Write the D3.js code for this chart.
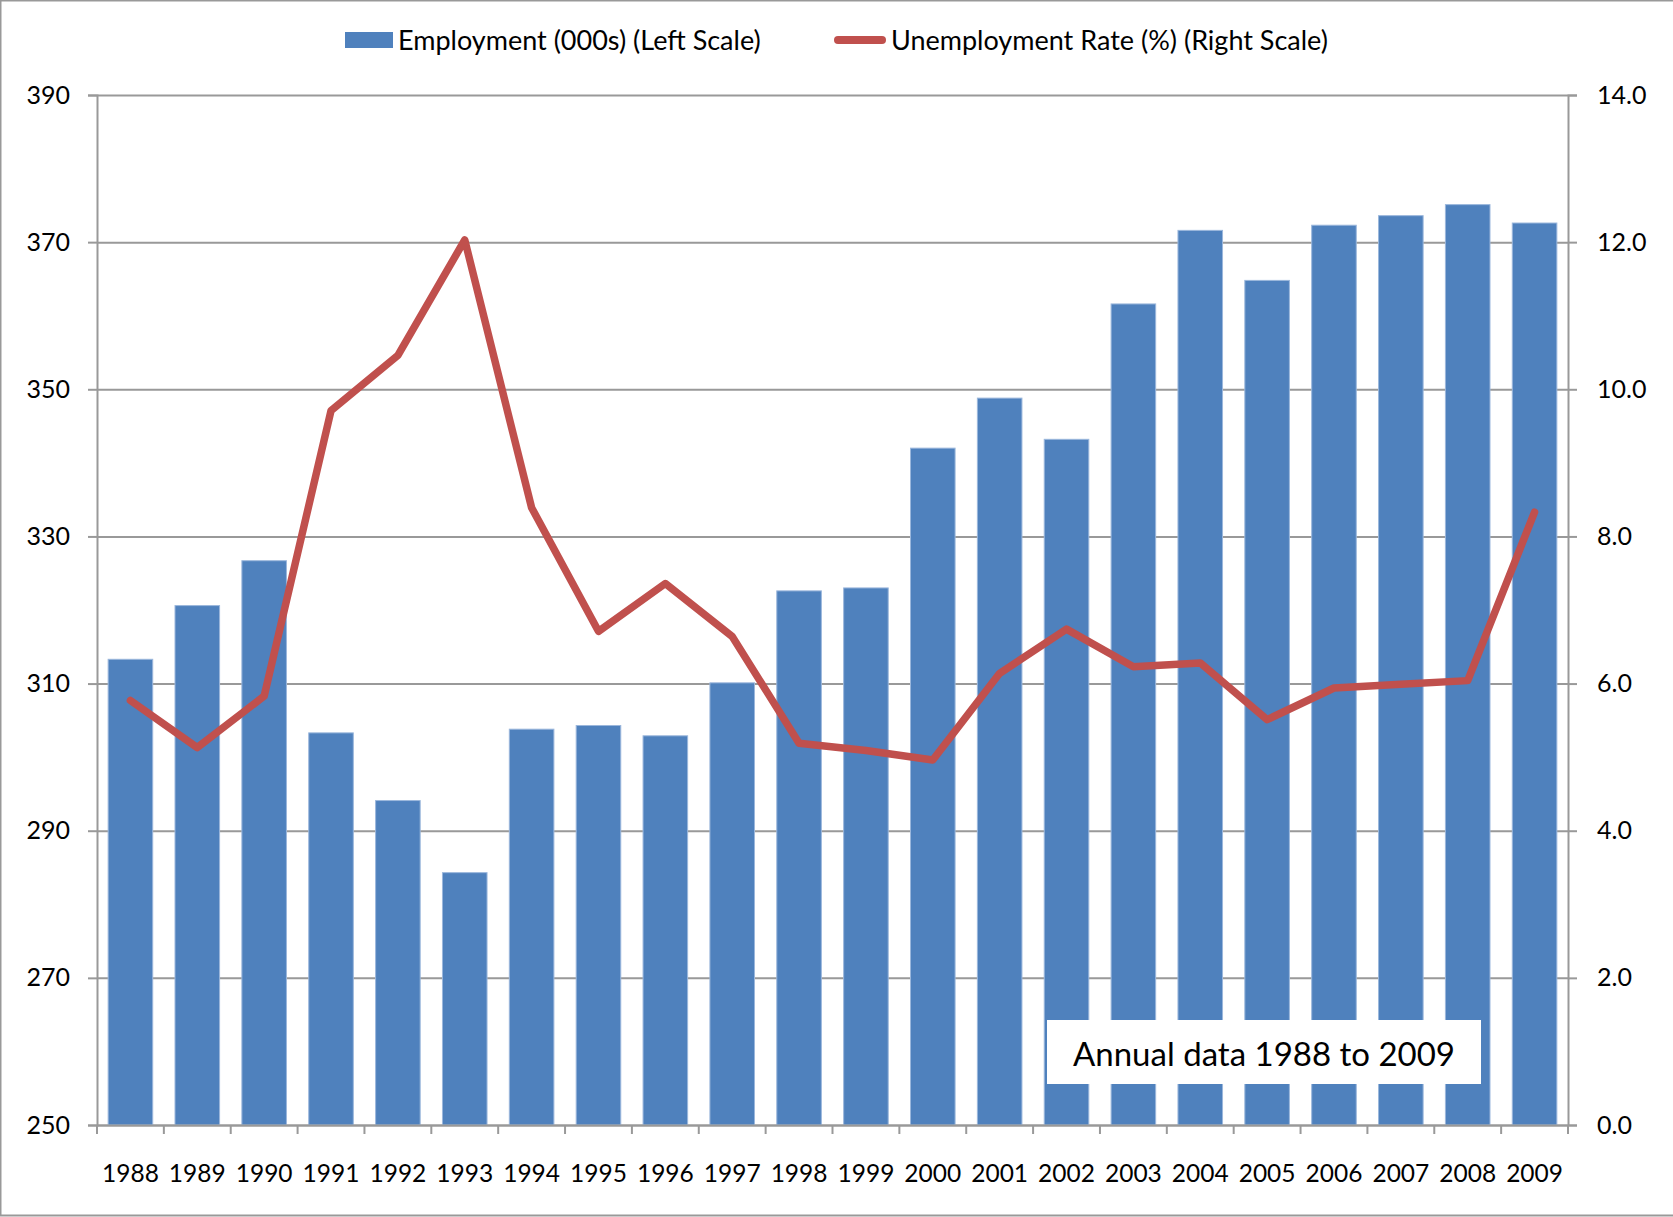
<!DOCTYPE html>
<html>
<head>
<meta charset="utf-8">
<script src="https://cdn.jsdelivr.net/npm/d3@7"></script>
<style>
  body { margin: 0; background: #fff; }
  text { font-family: Lato, "Open Sans", sans-serif; fill: #000; }
</style>
</head>
<body>
<div id="chart"></div>
<script>
// data
const years = ["1988","1989","1990","1991","1992","1993","1994","1995","1996","1997","1998",
               "1999","2000","2001","2002","2003","2004","2005","2006","2007","2008","2009"];
const employment = [313.3, 320.6, 326.7, 303.3, 294.1, 284.3, 303.8, 304.3, 302.9, 310.1, 322.6,
                    323.0, 342.0, 348.8, 343.2, 361.6, 371.6, 364.8, 372.3, 373.6, 375.1, 372.6];
const unemployment = [5.77, 5.13, 5.83, 9.71, 10.46, 12.03, 8.39, 6.71, 7.36, 6.64, 5.19,
                      5.09, 4.96, 6.14, 6.74, 6.23, 6.28, 5.51, 5.94, 5.99, 6.04, 8.33];
const leftTicks = [250, 270, 290, 310, 330, 350, 370, 390];
const rightTicks = [0, 2, 4, 6, 8, 10, 12, 14];

const W = 1673, H = 1217;
const margin = {top: 95, right: 105, bottom: 92, left: 97};
const width = W - margin.left - margin.right,
      height = H - margin.top - margin.bottom;

const svg = d3.select("#chart").append("svg")
    .attr("width", W).attr("height", H);

// outer frame
svg.append("rect").attr("x", 0.5).attr("y", 0.5).attr("width", W + 5).attr("height", H - 2)
    .attr("fill", "none").attr("stroke", "#999").attr("stroke-width", 2);

const g = svg.append("g").attr("transform", `translate(${margin.left},${margin.top})`);

const x = d3.scaleBand().domain(years).range([0, width]).paddingInner(1/3).paddingOuter(1/6);
const xb = d3.scaleBand().domain(years).range([0, width]);
const yL = d3.scaleLinear().domain([250, 390]).range([height, 0]);
const yR = d3.scaleLinear().domain([0, 14]).range([height, 0]);

// gridlines
g.append("g")
  .call(d3.axisLeft(yL).tickValues(leftTicks).tickSize(-width).tickFormat(""))
  .call(s => s.select(".domain").remove())
  .selectAll("line").attr("stroke", "#999").attr("stroke-width", 2);

// bars
g.append("g").selectAll("rect")
  .data(years.map((d, i) => ({year: d, value: employment[i]})))
  .join("rect")
    .attr("x", d => x(d.year))
    .attr("y", d => yL(d.value))
    .attr("width", x.bandwidth())
    .attr("height", d => height - yL(d.value))
    .attr("fill", "#4f81bd")
    .attr("stroke", "#9bb7dc").attr("stroke-width", 1);

// left axis
const axL = g.append("g")
  .call(d3.axisLeft(yL).tickValues(leftTicks).tickSize(9).tickPadding(18));
axL.selectAll("line").attr("stroke", "#999").attr("stroke-width", 2);
axL.select(".domain").attr("stroke", "#999").attr("stroke-width", 2);
axL.selectAll("text").style("font-size", "25px");

// right axis
const axR = g.append("g").attr("transform", `translate(${width},0)`)
  .call(d3.axisRight(yR).tickValues(rightTicks).tickSize(9).tickPadding(20).tickFormat(d3.format(".1f")));
axR.selectAll("line").attr("stroke", "#999").attr("stroke-width", 2);
axR.select(".domain").attr("stroke", "#999").attr("stroke-width", 2);
axR.selectAll("text").style("font-size", "25px");

// bottom axis: ticks between categories
const axB = g.append("g").attr("transform", `translate(0,${height})`)
  .call(d3.axisBottom(x).tickSize(0).tickPadding(40));
axB.select(".domain").attr("stroke", "#999").attr("stroke-width", 2);
axB.selectAll("text").style("font-size", "24.5px");
g.append("g").attr("transform", `translate(0,${height})`).selectAll("line")
  .data(years.concat(["end"]))
  .join("line")
    .attr("x1", (d, i) => i === years.length ? width : xb(d))
    .attr("x2", (d, i) => i === years.length ? width : xb(d))
    .attr("y1", 0).attr("y2", 9)
    .attr("stroke", "#999").attr("stroke-width", 2);

// unemployment line
const line = d3.line()
  .x((d, i) => x(years[i]) + x.bandwidth() / 2)
  .y(d => yR(d));
g.append("path")
  .datum(unemployment)
  .attr("d", line)
  .attr("fill", "none")
  .attr("stroke", "#c0504d")
  .attr("stroke-width", 7.5)
  .attr("stroke-linejoin", "round")
  .attr("stroke-linecap", "round");

// annotation box
svg.append("rect").attr("x", 1047).attr("y", 1020).attr("width", 434).attr("height", 64).attr("fill", "#fff");
svg.append("text").attr("x", 1264).attr("y", 1053).attr("text-anchor", "middle")
  .attr("dominant-baseline", "central").style("font-size", "33px")
  .text("Annual data 1988 to 2009");

// legend
svg.append("rect").attr("x", 345).attr("y", 32).attr("width", 48).attr("height", 16).attr("fill", "#4f81bd");
svg.append("text").attr("x", 398).attr("y", 39).attr("dominant-baseline", "central")
  .style("font-size", "27px").text("Employment (000s) (Left Scale)");
svg.append("line").attr("x1", 838).attr("x2", 882).attr("y1", 40).attr("y2", 40)
  .attr("stroke", "#c0504d").attr("stroke-width", 8).attr("stroke-linecap", "round");
svg.append("text").attr("x", 891).attr("y", 39).attr("dominant-baseline", "central")
  .style("font-size", "27px").text("Unemployment Rate (%) (Right Scale)");
</script>
</body>
</html>
